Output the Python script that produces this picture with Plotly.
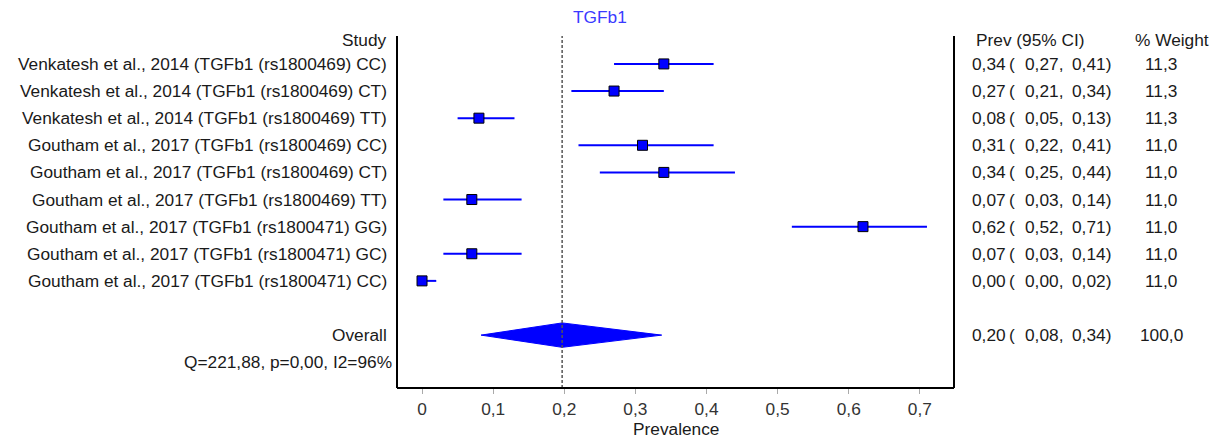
import plotly.graph_objects as go

studies = [
    "Venkatesh et al., 2014 (TGFb1 (rs1800469) CC)",
    "Venkatesh et al., 2014 (TGFb1 (rs1800469) CT)",
    "Venkatesh et al., 2014 (TGFb1 (rs1800469) TT)",
    "Goutham et al., 2017 (TGFb1 (rs1800469) CC)",
    "Goutham et al., 2017 (TGFb1 (rs1800469) CT)",
    "Goutham et al., 2017 (TGFb1 (rs1800469) TT)",
    "Goutham et al., 2017 (TGFb1 (rs1800471) GG)",
    "Goutham et al., 2017 (TGFb1 (rs1800471) GC)",
    "Goutham et al., 2017 (TGFb1 (rs1800471) CC)",
]
prev = [0.34, 0.27, 0.08, 0.31, 0.34, 0.07, 0.62, 0.07, 0.00]
ci_low = [0.27, 0.21, 0.05, 0.22, 0.25, 0.03, 0.52, 0.03, 0.00]
ci_high = [0.41, 0.34, 0.13, 0.41, 0.44, 0.14, 0.71, 0.14, 0.02]
weights = [11.3, 11.3, 11.3, 11.0, 11.0, 11.0, 11.0, 11.0, 11.0]

overall_est = 0.197
overall_low = 0.083
overall_high = 0.337
overall_weight = 100.0
het_text = "Q=221,88, p=0,00, I2=96%"
title_text = "TGFb1"
x_title = "Prevalence"
x_ticks = [0, 0.1, 0.2, 0.3, 0.4, 0.5, 0.6, 0.7]

FONT = "Liberation Sans, Arial, sans-serif"
TXT = "#1a1a1a"
FS = 17.3

n = len(studies)
rows = list(range(1, n + 1))
overall_row = n + 2
het_row = n + 3


def fmt(v, d=2):
    return f"{v:.{d}f}".replace(".", ",")


fig = go.Figure()

# study CIs + squares
fig.add_trace(go.Scatter(
    x=prev, y=rows, mode="markers",
    marker=dict(symbol="square", size=10, color="#0000ff",
                line=dict(color="#000000", width=1)),
    error_x=dict(type="data", symmetric=False,
                 array=[h - p for h, p in zip(ci_high, prev)],
                 arrayminus=[p - l for p, l in zip(prev, ci_low)],
                 color="#0000ff", thickness=2, width=0),
    showlegend=False, hoverinfo="skip",
))

# overall diamond
h = 0.45
fig.add_trace(go.Scatter(
    x=[overall_low, overall_est, overall_high, overall_est, overall_low],
    y=[overall_row, overall_row - h, overall_row, overall_row + h, overall_row],
    mode="lines", fill="toself", fillcolor="#0000ff",
    line=dict(color="#0000ff", width=1),
    showlegend=False, hoverinfo="skip",
))

shapes = [
    dict(type="line", xref="x", yref="paper", x0=overall_est, x1=overall_est,
         y0=0, y1=1, line=dict(color="#555555", width=1.5, dash="3px,2px")),
    dict(type="line", xref="paper", yref="paper", x0=0, x1=0, y0=0, y1=1,
         line=dict(color="#000000", width=2)),
    dict(type="line", xref="paper", yref="paper", x0=1, x1=1, y0=0, y1=1,
         line=dict(color="#000000", width=2)),
    dict(type="line", xref="paper", yref="paper", x0=0, x1=1, y0=0, y1=0,
         line=dict(color="#000000", width=2)),
]

ann = []


def txt(text, y, xref="paper", x=0, xanchor="right", xshift=0, color=TXT, yshift=0,
        yref="y", borderpad=1):
    ann.append(dict(text=text, x=x, y=y, xref=xref, yref=yref, xanchor=xanchor,
                    yanchor="middle", xshift=xshift, yshift=yshift, showarrow=False,
                    borderpad=borderpad,
                    font=dict(family=FONT, size=FS, color=color)))


# headers
txt("Study", 0.1, x=0, xanchor="right", xshift=-8)
txt("Prev (95% CI)", 0.1, x=1, xanchor="left", xshift=20)
txt("% Weight", 0.1, x=1, xanchor="left", xshift=179)

for r, s, p, lo, hi, w in zip(rows, studies, prev, ci_low, ci_high, weights):
    txt(s, r, x=0, xanchor="right", xshift=-8)
    txt(fmt(p), r, x=1, xanchor="left", xshift=16)
    txt("(", r, x=1, xanchor="left", xshift=53)
    txt(fmt(lo) + ",", r, x=1, xanchor="left", xshift=69)
    txt(fmt(hi) + ")", r, x=1, xanchor="left", xshift=116)
    txt(fmt(w, 1), r, x=1, xanchor="center", xshift=207)

txt("Overall", overall_row, x=0, xanchor="right", xshift=-8)
txt(fmt(overall_est), overall_row, x=1, xanchor="left", xshift=16)
txt("(", overall_row, x=1, xanchor="left", xshift=53)
txt(fmt(overall_low) + ",", overall_row, x=1, xanchor="left", xshift=69)
txt(fmt(overall_high) + ")", overall_row, x=1, xanchor="left", xshift=116)
txt(fmt(overall_weight, 1), overall_row, x=1, xanchor="center", xshift=207)
txt(het_text, het_row, x=0, xanchor="right", xshift=-3)

# x-axis title
txt(x_title, 0, xref="paper", x=0.5, xanchor="center", yref="paper", yshift=-41,
    borderpad=0)

# title
ann.append(dict(text=title_text, x=0.25, xref="x", y=1, yref="paper",
                xanchor="center", yanchor="middle", yshift=19, showarrow=False,
                font=dict(family=FONT, size=FS, color="#3a3aff")))

# page has an 8px body margin, so the figure is sized/offset to compensate
fig.update_layout(
    width=1214, height=430,
    margin=dict(l=389, r=268, t=28, b=50, autoexpand=False),
    paper_bgcolor="white", plot_bgcolor="white",
    separators=",.",
    shapes=shapes, annotations=ann,
    xaxis=dict(range=[-0.0352, 0.748], tickvals=x_ticks, showgrid=False,
               zeroline=False, showline=False, ticks="outside", ticklen=5,
               tickcolor="#aaaaaa", tickwidth=1, ticklabelstandoff=0,
               automargin=False,
               tickfont=dict(family=FONT, size=FS, color="#333333")),
    yaxis=dict(range=[12.95, -0.03], visible=False, showgrid=False, zeroline=False,
               automargin=False),
    font=dict(family=FONT, size=FS, color=TXT),
)

fig.write_html("out.html")
